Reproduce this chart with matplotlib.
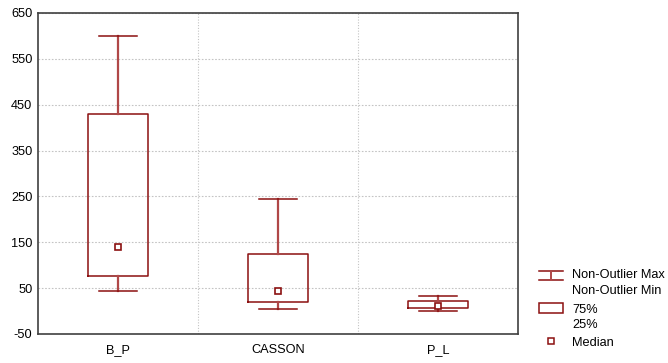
import matplotlib
matplotlib.use('Agg')
import matplotlib.pyplot as plt
from matplotlib.patches import Rectangle

plt.rcParams['font.family'] = ['Liberation Sans', 'DejaVu Sans']
plt.rcParams['axes.unicode_minus'] = False

# ── Dane ─────────────────────────────────────────────
categories = ['B_P', 'CASSON', 'P_L']
whisk_max  = [600, 244, 32]
q75        = [429, 125, 22]
median     = [140, 44, 11]
q25        = [76, 19, 6]
whisk_min  = [44, 5, 0]
y_ticks    = [-50, 50, 150, 250, 350, 450, 550, 650]

RED  = '#8b1010'
WHIS = '#b04848'
GRID = '#c4c4c4'
FS   = 9.2

fig = plt.figure(figsize=(6.68, 3.63), dpi=100)
ax = fig.add_axes([38 / 668, 29 / 363, 480 / 668, 321 / 363])

pos = list(range(1, len(categories) + 1))
stats = []
for i in range(len(categories)):
    stats.append(dict(med=median[i], q1=q25[i], q3=q75[i],
                      whislo=whisk_min[i], whishi=whisk_max[i], fliers=[]))

ax.bxp(stats, positions=pos, widths=0.375, capwidths=0.24,
       showfliers=False,
       boxprops=dict(color=RED, lw=1.1),
       whiskerprops=dict(color=WHIS, lw=1.6),
       capprops=dict(color=RED, lw=1.1),
       medianprops=dict(visible=False))
ax.plot(pos, median, 's', ms=4.5, mfc='white', mec=RED, mew=1.2, zorder=5)

ax.set_xlim(0.5, 3.5)
ax.set_ylim(-50, 650)
ax.set_yticks(y_ticks)
ax.set_xticks(pos)
ax.set_xticklabels(categories)
ax.tick_params(axis='both', labelsize=FS, colors='black', length=0)
ax.tick_params(axis='y', pad=4)
ax.tick_params(axis='x', pad=7)

# siatka: poziome linie na tickach, pionowe między kategoriami
for y in y_ticks:
    ax.axhline(y, color=GRID, lw=0.8, ls=(0, (1.5, 1.5)), zorder=0)
for x in [1.5, 2.5]:
    ax.axvline(x, color=GRID, lw=0.8, ls=(0, (1, 1.5)), zorder=0)

for s in ax.spines.values():
    s.set_color('#404040')
    s.set_linewidth(1.2)

# ── Legenda (współrzędne w pikselach) ─────────────────
lg = fig.add_axes([0, 0, 1, 1])
lg.set_xlim(0, 668)
lg.set_ylim(363, 0)
lg.axis('off')

lg.plot([539, 563], [270.5, 270.5], color=RED, lw=1.1)
lg.plot([539, 563], [280, 280], color=RED, lw=1.1)
lg.plot([551, 551], [270.5, 280], color=WHIS, lw=1.4)
lg.add_patch(Rectangle((539, 303), 24, 10, fill=False, ec=RED, lw=1.1))
lg.plot([551], [341], 's', ms=4, mfc='white', mec=RED, mew=1.1)

txt = dict(fontsize=FS, va='center', ha='left', color='black')
lg.text(572, 275.5, 'Non-Outlier Max', **txt)
lg.text(572, 291.5, 'Non-Outlier Min', **txt)
lg.text(572, 310, '75%', **txt)
lg.text(572, 325, '25%', **txt)
lg.text(572, 343, 'Median', **txt)

fig.savefig('out.png', dpi=100, facecolor='white')
